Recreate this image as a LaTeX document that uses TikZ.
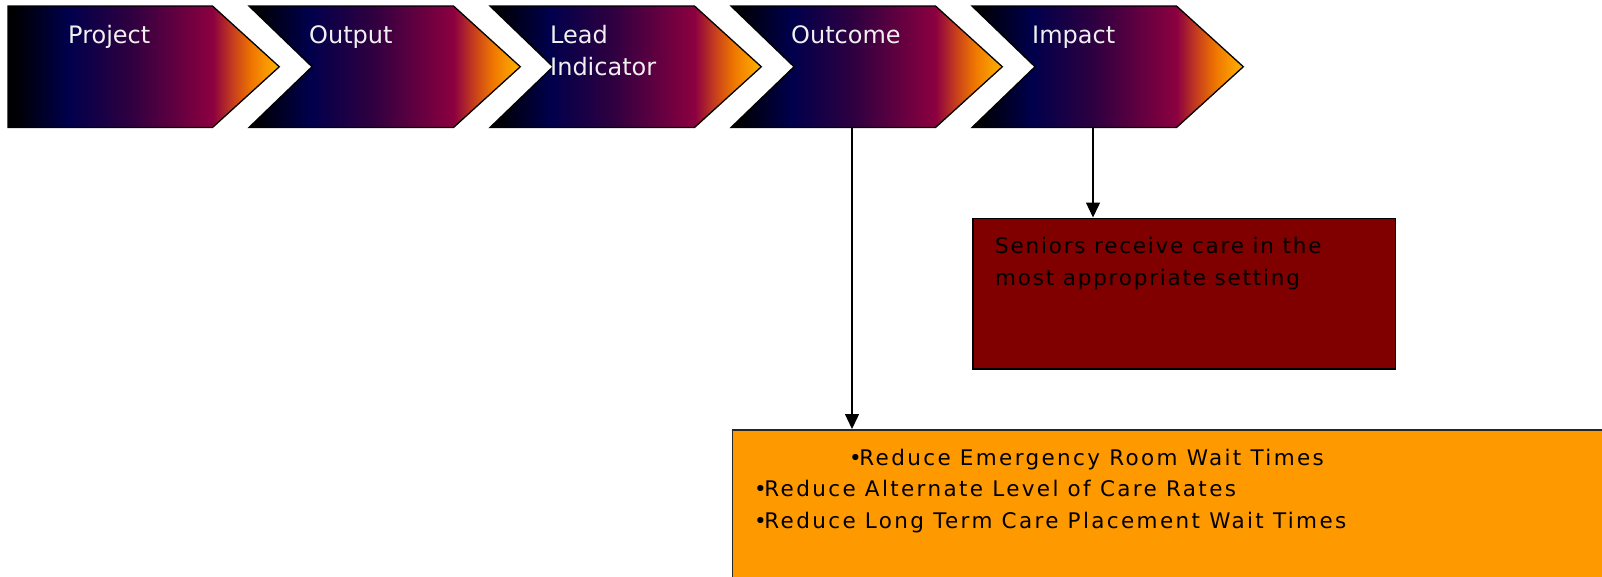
\documentclass[tikz,border=0pt]{standalone}
\usepackage{fontspec}
\usetikzlibrary{arrows.meta}

\newfontfamily\labelfont{DejaVu Sans}
\newfontfamily\impactfont[LetterSpace=8.3]{DejaVu Sans}
\newfontfamily\outcomefont[LetterSpace=11]{DejaVu Sans}

\definecolor{gNavy}{HTML}{00004C}
\definecolor{gPlum}{HTML}{2E0040}
\definecolor{gCrimson}{HTML}{8C0040}
\definecolor{gRust}{HTML}{C8401C}
\definecolor{gOrange}{HTML}{F07800}
\definecolor{gGold}{HTML}{FFB400}
\definecolor{impactRed}{HTML}{800000}
\definecolor{outcomeOrange}{HTML}{FF9900}

% left-to-right chevron gradient; the path box maps onto 25bp..75bp
\pgfdeclarehorizontalshading{chevgrad}{100bp}{%
  color(0bp)=(black); color(25bp)=(black); color(27bp)=(black!90!gNavy);
  color(36bp)=(gNavy); color(47.5bp)=(gPlum); color(62.75bp)=(gCrimson);
  color(66.5bp)=(gRust); color(70bp)=(gOrange); color(75bp)=(gGold);
  color(100bp)=(gGold)}

\newcommand{\blt}{•\kern-2.5pt}

\tikzset{
  chevron/.style={shading=chevgrad, draw=black, line width=1.3pt, line join=miter},
  chevtext/.style={text=white!94!black, inner sep=0pt, align=left,
    font=\labelfont\fontsize{24}{32}\selectfont},
  impactbox/.style={rectangle, fill=impactRed, draw=black, line width=1.8pt, inner sep=0pt},
  outcomebox/.style={rectangle, fill=outcomeOrange, draw=black!85, line width=1.8pt, inner sep=0pt},
  boxtext/.style={text=black, inner sep=0pt, align=left},
  conn/.style={draw=black, line width=1.4pt, -{Triangle[width=14pt,length=15pt]}}
}

\begin{document}
\begin{tikzpicture}[x=1pt,y=-1pt]
\useasboundingbox (0,0) rectangle (1602,576);
\clip (0,0) rectangle (1602,576);

% process chevrons (last field: baseline of the label's last line)
\foreach \i/\txt/\bl in {0/Project/43.3,1/Output/43.3,2/{Lead\\Indicator}/75.3,3/Outcome/43.3,4/Impact/43.3}{
  \pgfmathsetmacro\L{8+241*\i}
  \pgfmathsetmacro\N{ifthenelse(\i==0,0,63)}
  \path[chevron] (\L,6) -- (\L+204.5,6) -- (\L+271.3,66.75) -- (\L+204.5,127.5)
     -- (\L,127.5) -- (\L+\N,66.75) -- cycle;
  \node[chevtext, anchor=base west] (lab\i) at (\L+60,\bl) {\txt};
  \coordinate (cbot\i) at (\L+121,127.5);
}

% result boxes
\node[impactbox, anchor=north west, minimum width=422.6pt, minimum height=150.3pt]
  (impact) at (972,217.5) {};
\node[boxtext, anchor=base west, font=\impactfont\fontsize{21.5}{32}\selectfont]
  (impacttxt) at (995,285) {Seniors receive care in the\\most appropriate setting};

\node[outcomebox, anchor=north west, minimum width=900pt, minimum height=200pt]
  (outcome) at (731.5,429) {};
\node[boxtext, anchor=base west, font=\outcomefont\fontsize{21.5}{31.5}\selectfont]
  (outcometxt) at (754,528) {\hspace*{95pt}\blt Reduce Emergency Room Wait Times\\
  \blt Reduce Alternate Level of Care Rates\\
  \blt Reduce Long Term Care Placement Wait Times};

% connectors
\draw[conn] (cbot3) -- (cbot3 |- outcome.north);
\draw[conn] (cbot4) -- (cbot4 |- impact.north);
\end{tikzpicture}
\end{document}
